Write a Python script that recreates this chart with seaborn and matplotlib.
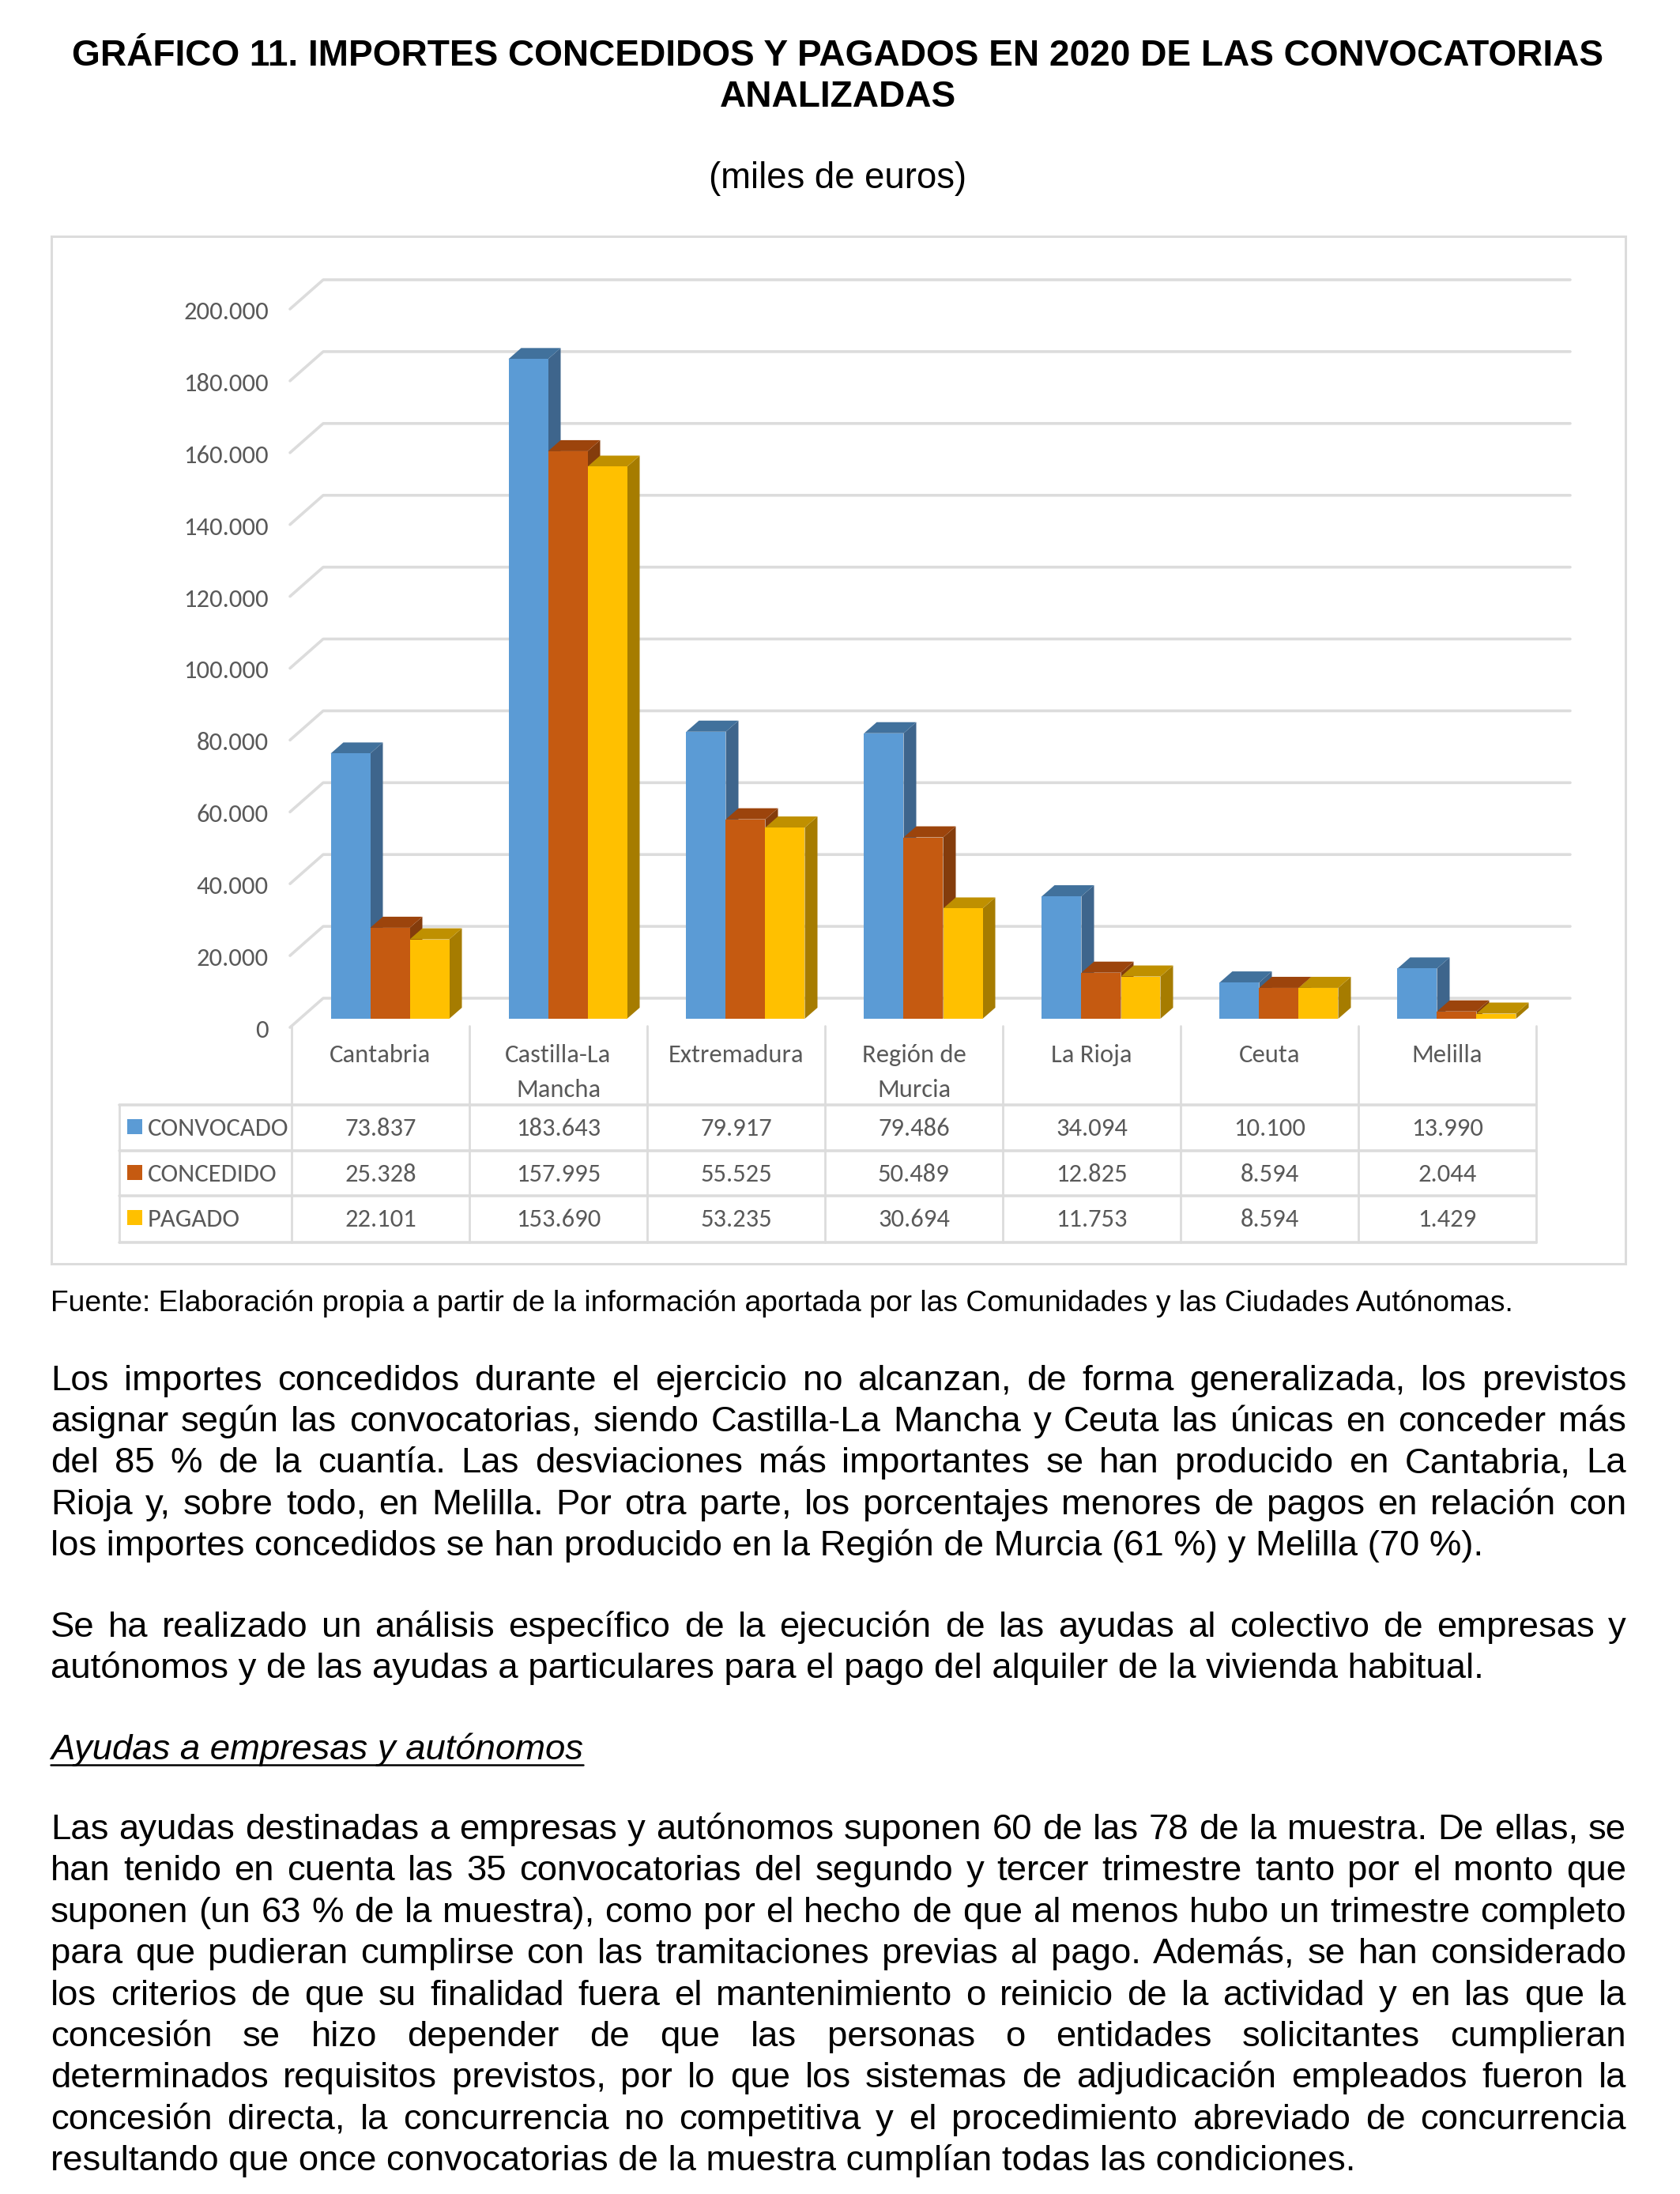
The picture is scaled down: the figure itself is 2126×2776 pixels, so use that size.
import pandas as pd
import seaborn as sns
import matplotlib
matplotlib.use("Agg")
import matplotlib.pyplot as plt
from matplotlib.patches import Polygon, Rectangle

# Chart data (miles de euros)
regions = ["Cantabria", "Castilla-La\nMancha", "Extremadura", "Región de\nMurcia", "La Rioja", "Ceuta", "Melilla"]
convocado = [73837, 183643, 79917, 79486, 34094, 10100, 13990]
concedido = [25328, 157995, 55525, 50489, 12825, 8594, 2044]
pagado = [22101, 153690, 53235, 30694, 11753, 8594, 1429]
series_names = ["CONVOCADO", "CONCEDIDO", "PAGADO"]
y_ticks = [0, 20000, 40000, 60000, 80000, 100000, 120000, 140000, 160000, 180000, 200000]

# Text of the page
title_lines = ["GRÁFICO 11. IMPORTES CONCEDIDOS Y PAGADOS EN 2020 DE LAS CONVOCATORIAS", "ANALIZADAS"]
subtitle = "(miles de euros)"
source = "Fuente: Elaboración propia a partir de la información aportada por las Comunidades y las Ciudades Autónomas."
heading = "Ayudas a empresas y autónomos"
para1 = [
    "Los importes concedidos durante el ejercicio no alcanzan, de forma generalizada, los previstos",
    "asignar según las convocatorias, siendo Castilla-La Mancha y Ceuta las únicas en conceder más",
    "del 85 % de la cuantía. Las desviaciones más importantes se han producido en Cantabria, La",
    "Rioja y, sobre todo, en Melilla. Por otra parte, los porcentajes menores de pagos en relación con",
    "los importes concedidos se han producido en la Región de Murcia (61 %) y Melilla (70 %).",
]
para2 = [
    "Se ha realizado un análisis específico de la ejecución de las ayudas al colectivo de empresas y",
    "autónomos y de las ayudas a particulares para el pago del alquiler de la vivienda habitual.",
]
para3 = [
    "Las ayudas destinadas a empresas y autónomos suponen 60 de las 78 de la muestra. De ellas, se",
    "han tenido en cuenta las 35 convocatorias del segundo y tercer trimestre tanto por el monto que",
    "suponen (un 63 % de la muestra), como por el hecho de que al menos hubo un trimestre completo",
    "para que pudieran cumplirse con las tramitaciones previas al pago. Además, se han considerado",
    "los criterios de que su finalidad fuera el mantenimiento o reinicio de la actividad y en las que la",
    "concesión se hizo depender de que las personas o entidades solicitantes cumplieran",
    "determinados requisitos previstos, por lo que los sistemas de adjudicación empleados fueron la",
    "concesión directa, la concurrencia no competitiva y el procedimiento abreviado de concurrencia",
    "resultando que once convocatorias de la muestra cumplían todas las condiciones.",
]

front_colors = ["#5B9BD5", "#C55A11", "#FFC000"]
side_colors = ["#3E658C", "#843C0C", "#A67C00"]
top_colors = ["#41719C", "#9C440C", "#BF9000"]
GRID = "#DCDCDC"
LABEL = "#595959"
NARROW = ["Carlito", "Roboto Condensed", "Archivo Narrow", "Liberation Sans"]
LABEL_SIZE = 23.5
ARIAL = "Liberation Sans"

W, H = 2126, 2776
sns.set_theme(style="white")
fig = plt.figure(figsize=(W / 100, H / 100), dpi=100)

# page layer in pixel coordinates
page = fig.add_axes([0, 0, 1, 1], zorder=0)
page.set_xlim(0, W)
page.set_ylim(H, 0)
page.axis("off")

# chart layer: 225 px per category, 4.545 px per thousand
left, right = 381, 1956
base, top = 1289, 1289 - 210 * 4.545
ax = fig.add_axes([left / W, 1 - base / H, (right - left) / W, (base - top) / H], zorder=1)
ax.patch.set_alpha(0)

df = pd.DataFrame({"region": regions, series_names[0]: convocado, series_names[1]: concedido, series_names[2]: pagado})
long_df = df.melt(id_vars="region", var_name="serie", value_name="importe")
sns.barplot(data=long_df, x="region", y="importe", hue="serie", palette=front_colors, saturation=1,
            width=2 / 3, gap=0, legend=False, ax=ax)
ax.set_xlim(-0.5, 6.5)
ax.set_ylim(0, 210000)
ax.axis("off")

# depth of the bars and of the back wall, in data units
bar_dx, bar_dy = 16 / 225, 14 / 4.545 * 1000
wall_back = 26 / 4.545 * 1000
wall_front = -11 / 4.545 * 1000
label_shift = -1.5 / 4.545 * 1000
x_front = (367 - left) / 225 - 0.5
x_back = (409 - left) / 225 - 0.5
x_end = (1987 - left) / 225 - 0.5

for v in y_ticks:
    ax.plot([x_front, x_back, x_end], [v + wall_front, v + wall_back, v + wall_back], color=GRID, lw=2.6,
            clip_on=False, zorder=1, solid_joinstyle="round")
    ax.text((340 - left) / 225 - 0.5, v + wall_front + label_shift, f"{v:,}".replace(",", "."), ha="right",
            va="center_baseline", family=NARROW, fontsize=LABEL_SIZE, color=LABEL)

# fake the 3D look from the bars seaborn drew
for k, bar in enumerate(ax.patches):
    s = k // len(regions)
    x0, x1 = bar.get_x(), bar.get_x() + bar.get_width()
    h = bar.get_height()
    z = 3 + s * 3
    bar.set_zorder(z + 2)
    bar.set_linewidth(0)
    side = [(x1, 0), (x1 + bar_dx, bar_dy), (x1 + bar_dx, h + bar_dy), (x1, h)]
    cap = [(x0, h), (x0 + bar_dx, h + bar_dy), (x1 + bar_dx, h + bar_dy), (x1, h)]
    ax.add_patch(Polygon(side, closed=True, fc=side_colors[s], ec="none", zorder=z, clip_on=False))
    ax.add_patch(Polygon(cap, closed=True, fc=top_colors[s], ec="none", zorder=z + 1, clip_on=False))

# frame around the chart
page.add_patch(Rectangle((65, 299), 1992, 1300, fc="white", ec=GRID, lw=2.2))

# data table
col0 = 369
col_w = 225
row_lines = [1398, 1456, 1513, 1572]
for y in row_lines:
    page.plot([151, col0 + 7 * col_w], [y, y], color=GRID, lw=2.6)
for i in range(8):
    page.plot([col0 + i * col_w] * 2, [1298, 1572], color=GRID, lw=2)
page.plot([151, 151], [1398, 1572], color=GRID, lw=2)

for i, name in enumerate(regions):
    parts = name.split("\n")
    for j, part in enumerate(parts):
        page.text(col0 + (i + 0.5) * col_w, 1332 + j * 44, part, ha="center", va="center_baseline",
                  family=NARROW, fontsize=LABEL_SIZE, color=LABEL)

row_y = [1425, 1483, 1540]
for r, values in enumerate([convocado, concedido, pagado]):
    page.add_patch(Rectangle((161, row_y[r] - 9), 19, 19, fc=front_colors[r], ec="none"))
    page.text(187, row_y[r], series_names[r], ha="left", va="center_baseline", family=NARROW, fontsize=LABEL_SIZE, color=LABEL)
    for i, v in enumerate(values):
        page.text(col0 + (i + 0.5) * col_w, row_y[r], f"{v:,}".replace(",", "."), ha="center", va="center_baseline",
                  family=NARROW, fontsize=LABEL_SIZE, color=LABEL)

# titles and source
for y, line in zip([83, 135], title_lines):
    page.text(1060, y, line, ha="center", va="baseline", family=ARIAL, fontsize=33.1, fontweight="bold", color="black")
page.text(1060, 238, subtitle, ha="center", va="baseline", family=ARIAL, fontsize=32.8, color="black")
page.text(64, 1659, source, ha="left", va="baseline", family=ARIAL, fontsize=26.8, color="black")

renderer = fig.canvas.get_renderer()
TEXT_L, TEXT_R = 64, 2058
BODY = 32.75


def justified(lines, y0, step=52.4):
    # body text is justified, only the last line of a paragraph stays loose
    for n, line in enumerate(lines):
        y = y0 + n * step
        if n == len(lines) - 1:
            page.text(TEXT_L, y, line, ha="left", va="baseline", family=ARIAL, fontsize=BODY, color="black")
            continue
        words = [page.text(0, y, w, ha="left", va="baseline", family=ARIAL, fontsize=BODY, color="black")
                 for w in line.split()]
        widths = [t.get_window_extent(renderer).width for t in words]
        gap = (TEXT_R - TEXT_L - sum(widths)) / (len(words) - 1)
        x = TEXT_L
        for t, w in zip(words, widths):
            t.set_x(x)
            x += w + gap


justified(para1, 1758.5)
justified(para2, 2071)
justified(para3, 2327)

head = page.text(TEXT_L, 2226, heading, ha="left", va="baseline", family=ARIAL, fontsize=BODY, style="italic", color="black")
head_w = head.get_window_extent(renderer).width
page.plot([TEXT_L, TEXT_L + head_w], [2233, 2233], color="black", lw=1.8)

fig.savefig("out.png", dpi=100)
